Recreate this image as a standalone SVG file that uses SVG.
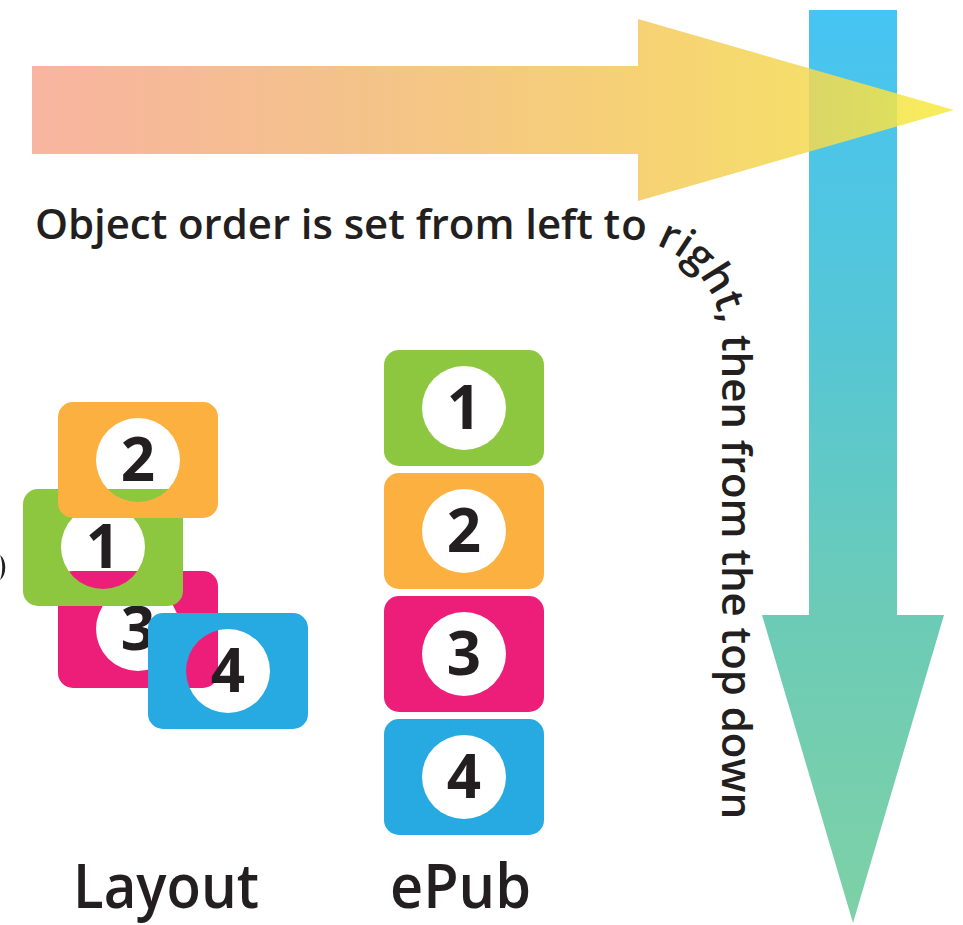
<svg xmlns="http://www.w3.org/2000/svg" width="963" height="925" viewBox="0 0 963 925">
<style>
.t{font-family:"Open Sans","Liberation Sans",sans-serif;font-weight:600;fill:#231F20}
.d{font-size:60px;text-anchor:middle;font-weight:700}
.g{fill:#8DC63F}.o{fill:#FBB040}.p{fill:#ED1E79}.b{fill:#27AAE1}
.w{fill:#FFFFFF}
</style>
<defs>
<linearGradient id="hg" gradientUnits="userSpaceOnUse" x1="32" y1="0" x2="954" y2="0">
<stop offset="0" stop-color="#F7A891"/>
<stop offset="0.35" stop-color="#F2B877"/>
<stop offset="0.65" stop-color="#F5C95F"/>
<stop offset="0.85" stop-color="#F3D951"/>
<stop offset="1" stop-color="#F6EB40"/>
</linearGradient>
<linearGradient id="vg" gradientUnits="userSpaceOnUse" x1="0" y1="10" x2="0" y2="923">
<stop offset="0" stop-color="#46C4F3"/>
<stop offset="0.35" stop-color="#55C6D6"/>
<stop offset="0.65" stop-color="#6BCBB7"/>
<stop offset="1" stop-color="#7ED1A6"/>
</linearGradient>
<path id="tp" d="M35,239 H622 A100,100 0 0 1 722,339 V822"/>
</defs>

<g id="arrows">
<path d="M809,10 H897 V615 H944 L853,923 L762,615 H809 Z" fill="url(#vg)"/>
<path d="M32,66 H638 V19 L954,110 L638,201 V154 H32 Z" fill="url(#hg)" opacity="0.86"/>
</g>

<g id="caption">
<text class="t" font-size="42"><textPath href="#tp" textLength="1224" lengthAdjust="spacing">Object order is set from left to right, then from the top down</textPath></text>
</g>

<g id="edge-mark">
<path d="M0,555 C7,560 7,575 0,580 C3,573 3,562 0,555 Z" fill="#231F20"/>
</g>

<g id="layout">
<g id="layout-3">
<path class="p" fill-rule="evenodd" d="M73,571 H203 A15,15 0 0 1 218,586 V673 A15,15 0 0 1 203,688 H73 A15,15 0 0 1 58,673 V586 A15,15 0 0 1 73,571 Z M96,629 a42,42 0 1 0 84,0 a42,42 0 1 0 -84,0 Z"/>
<text class="t d" x="138" y="650">3</text>
</g>
<g id="layout-1">
<path class="g" fill-rule="evenodd" d="M38,489 H168 A15,15 0 0 1 183,504 V591 A15,15 0 0 1 168,606 H38 A15,15 0 0 1 23,591 V504 A15,15 0 0 1 38,489 Z M61,547 a42,42 0 1 0 84,0 a42,42 0 1 0 -84,0 Z"/>
<text class="t d" x="103" y="568">1</text>
</g>
<g id="layout-2">
<path class="o" fill-rule="evenodd" d="M73,402 H203 A15,15 0 0 1 218,417 V503 A15,15 0 0 1 203,518 H73 A15,15 0 0 1 58,503 V417 A15,15 0 0 1 73,402 Z M96,460 a42,42 0 1 0 84,0 a42,42 0 1 0 -84,0 Z"/>
<text class="t d" x="138" y="481">2</text>
</g>
<g id="layout-4">
<path class="b" fill-rule="evenodd" d="M163,613 H293 A15,15 0 0 1 308,628 V714 A15,15 0 0 1 293,729 H163 A15,15 0 0 1 148,714 V628 A15,15 0 0 1 163,613 Z M186,671 a42,42 0 1 0 84,0 a42,42 0 1 0 -84,0 Z"/>
<text class="t d" x="228" y="692">4</text>
</g>
</g>

<g id="epub">
<g id="epub-1">
<rect class="g" x="384" y="350" width="160" height="116" rx="15"/>
<circle class="w" cx="464" cy="408" r="42"/>
<text class="t d" x="464" y="429">1</text>
</g>
<g id="epub-2">
<rect class="o" x="384" y="473" width="160" height="116" rx="15"/>
<circle class="w" cx="464" cy="531" r="42"/>
<text class="t d" x="464" y="552">2</text>
</g>
<g id="epub-3">
<rect class="p" x="384" y="596" width="160" height="116" rx="15"/>
<circle class="w" cx="464" cy="654" r="42"/>
<text class="t d" x="464" y="675">3</text>
</g>
<g id="epub-4">
<rect class="b" x="384" y="719" width="160" height="116" rx="15"/>
<circle class="w" cx="464" cy="777" r="42"/>
<text class="t d" x="464" y="798">4</text>
</g>
</g>

<g id="labels">
<text class="t" x="73" y="908" font-size="62" textLength="186" lengthAdjust="spacingAndGlyphs">Layout</text>
<text class="t" x="390" y="908" font-size="62" textLength="141" lengthAdjust="spacingAndGlyphs">ePub</text>
</g>
</svg>
